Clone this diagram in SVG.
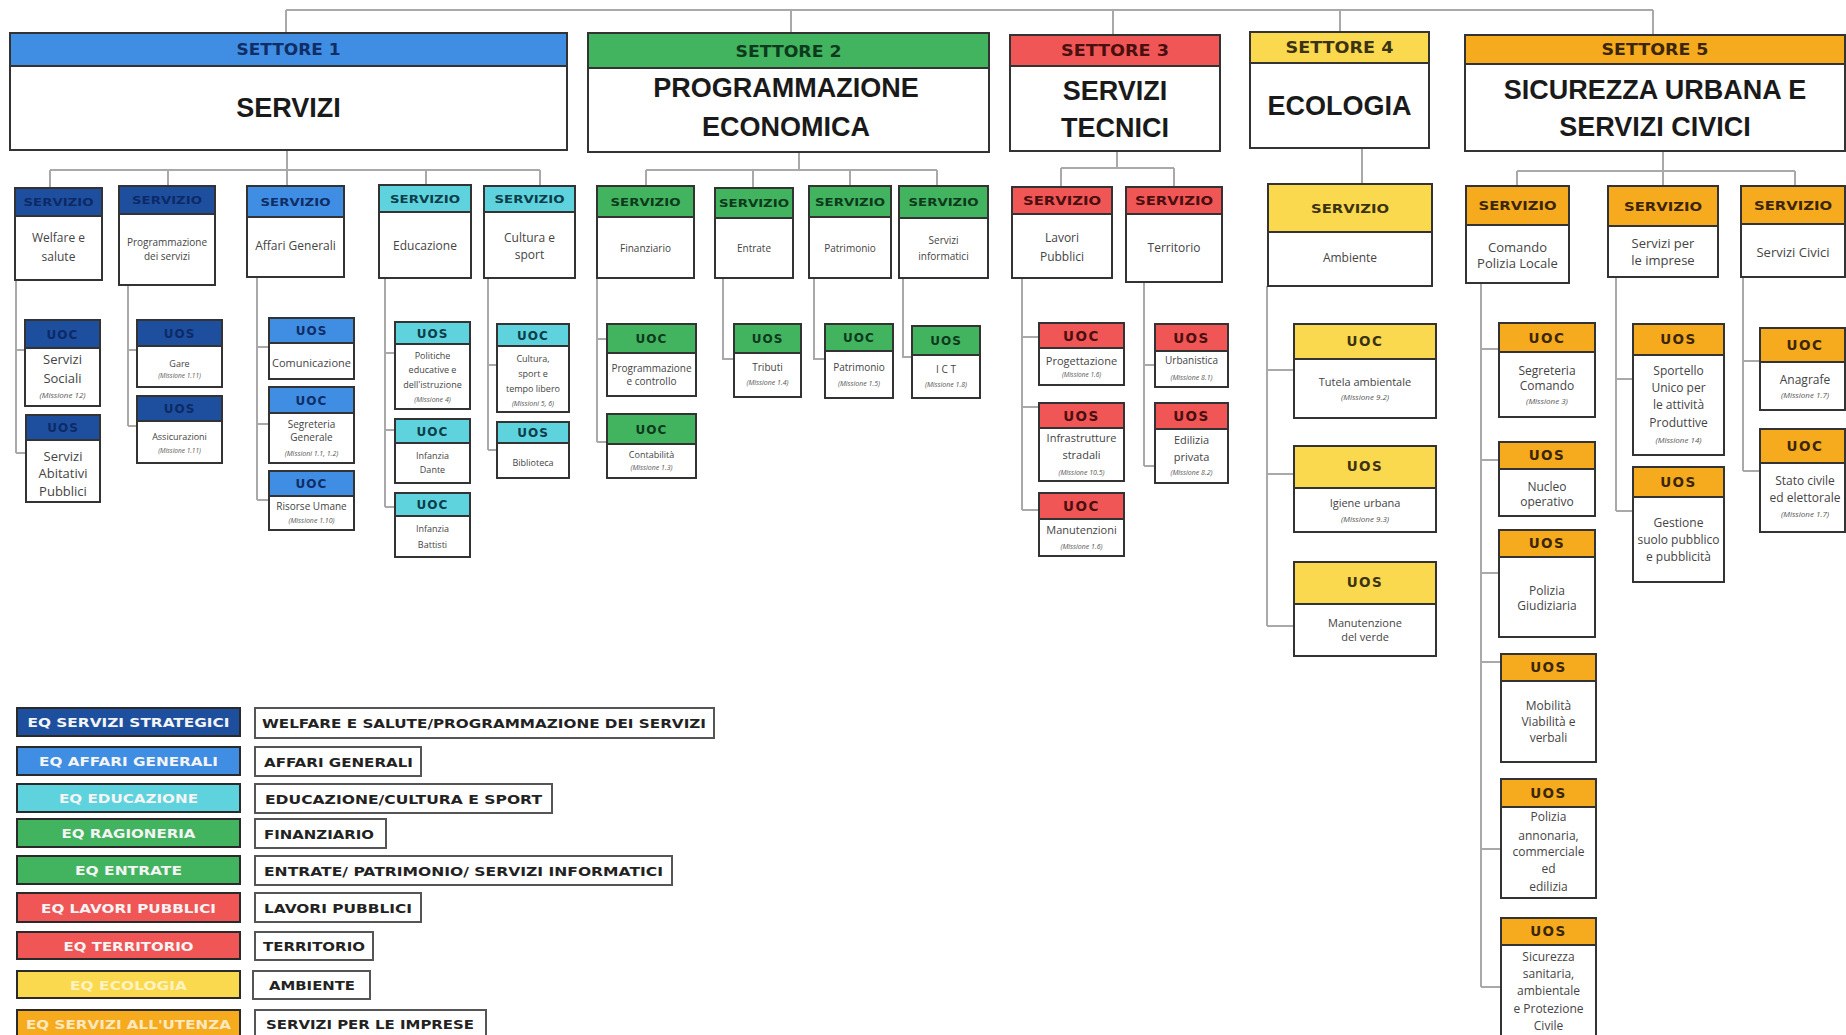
<svg xmlns="http://www.w3.org/2000/svg" width="1846" height="1035" viewBox="0 0 1846 1035">
<style>
.conn path{fill:none;stroke:#a9a9a9;stroke-width:2}
.box{fill:#fff;stroke:#333;stroke-width:2}
.h{stroke:#333;stroke-width:2}
.db{fill:#1d4f9e}.bl{fill:#3f8ee3}.cy{fill:#5fd3dd}.gr{fill:#42b35f}.rd{fill:#f15656}.yl{fill:#fbd94f}.or{fill:#f6ab1e}
text{font-family:"Open Sans","Liberation Sans",Arial,sans-serif;text-anchor:middle}
.k-db{fill:#0e2a66}.k-bl{fill:#0f2d66}.k-cy{fill:#0c3d4a}.k-gr{fill:#0d3a1c}.k-rd{fill:#4a0f0f}.k-yl{fill:#3b3312}.k-or{fill:#3b2608}
.st,.sv,.sv2,.u,.u2,.lt,.rt{font-family:"DejaVu Sans","Liberation Sans",Arial,sans-serif;font-weight:700}
.st{font-size:15px}
.ti{font-family:"Liberation Sans",Arial,sans-serif;font-size:27px;font-weight:700;fill:#1a1a1a}
.sv{font-size:11px}
.sv2{font-size:12px}
.u{font-size:12px;letter-spacing:1px}
.u2{font-size:13.5px;letter-spacing:1.5px}
.b13{font-size:13px;fill:#444}
.b12{font-size:12px;fill:#444}
.b11{font-size:11px;fill:#444}
.b10{font-size:10px;fill:#444}
.b9{font-size:9px;fill:#444}
.m8{font-size:8px;font-style:italic;fill:#555}
.m7{font-size:7px;font-style:italic;fill:#555}
.m6{font-size:6.5px;font-style:italic;fill:#555}
.lg{stroke:#2a2a2a;stroke-width:2}
.lw{fill:#fff;stroke:#555;stroke-width:2}
.lt{font-size:13px;fill:#f4f4f4}
.rt{font-size:13px;fill:#222;text-anchor:start}
</style>
<rect width="1846" height="1035" fill="#fff"/>

<g class="conn" id="connectors">
<path d="M286 10H1653M286 10V33M791 10V33M1113 10V35M1340 10V32M1653 10V35"/>
<path d="M287 150V170M50 170H540M50 170V188M168 170V186M287 170V186M426 170V185M540 170V186"/>
<path d="M16 280V453M16 350H25M16 453H26"/>
<path d="M128 285V426M128 350H137M128 426H137"/>
<path d="M257 277V500M257 347H269M257 424H269M257 500H269"/>
<path d="M385 278V507M385 353H395M385 430H395M385 507H395"/>
<path d="M488 278V450M488 365H497M488 450H497"/>
<path d="M799 152V170M646 170H937M646 170V186M753 170V188M850 170V186M937 170V186"/>
<path d="M597 278V442M597 339H607M597 442H607"/>
<path d="M723 278V359H734M814 278V359H825M903 278V357H912"/>
<path d="M1117 151V168M1061 168H1174M1061 168V187M1174 168V187"/>
<path d="M1022 278V510M1022 337H1039M1022 407H1039M1022 510H1039"/>
<path d="M1144 282V466M1144 365H1155M1144 466H1155"/>
<path d="M1362 148V184"/>
<path d="M1267 286V626M1267 370H1294M1267 474H1294M1267 626H1294"/>
<path d="M1663 151V171M1517 171H1795M1517 171V186M1663 171V186M1795 171V186"/>
<path d="M1481 283V987M1481 349H1499M1481 460H1499M1481 573H1499M1481 662H1501M1481 849H1501M1481 987H1501"/>
<path d="M1616 277V511M1616 379H1633M1616 511H1633"/>
<path d="M1743 277V471M1743 361H1760M1743 471H1760"/>
</g>

<!-- SETTORE 1 -->
<g id="settore1"><rect class="box" x="10" y="33" width="557" height="117"/><rect class="h bl" x="10" y="33" width="557" height="33"/><text class="st k-bl" x="288.5" y="55" textLength="104" lengthAdjust="spacingAndGlyphs">SETTORE 1</text><text class="ti" x="288.5" y="117">SERVIZI</text></g>
<g id="s1-welfare"><rect class="box" x="15" y="188" width="87" height="92"/><rect class="h db" x="15" y="188" width="87" height="28"/><text class="sv k-db" x="58.5" y="206" textLength="70" lengthAdjust="spacingAndGlyphs">SERVIZIO</text><text class="b12" x="58.5" y="242">Welfare e</text><text class="b12" x="58.5" y="261">salute</text></g>
<g id="s1-programmazione"><rect class="box" x="119" y="186" width="96" height="99"/><rect class="h db" x="119" y="186" width="96" height="28"/><text class="sv k-db" x="167" y="204" textLength="70" lengthAdjust="spacingAndGlyphs">SERVIZIO</text><text class="b10" x="167" y="246">Programmazione</text><text class="b10" x="167" y="260">dei servizi</text></g>
<g id="s1-affari"><rect class="box" x="247" y="186" width="97" height="91"/><rect class="h bl" x="247" y="186" width="97" height="31"/><text class="sv k-bl" x="295.5" y="205.5" textLength="70" lengthAdjust="spacingAndGlyphs">SERVIZIO</text><text class="b12" x="295.5" y="250">Affari Generali</text></g>
<g id="s1-educazione"><rect class="box" x="379" y="185" width="92" height="93"/><rect class="h cy" x="379" y="185" width="92" height="27"/><text class="sv k-cy" x="425" y="202.5" textLength="70" lengthAdjust="spacingAndGlyphs">SERVIZIO</text><text class="b12" x="425" y="250">Educazione</text></g>
<g id="s1-cultura"><rect class="box" x="484" y="186" width="91" height="92"/><rect class="h cy" x="484" y="186" width="91" height="26"/><text class="sv k-cy" x="529.5" y="203" textLength="70" lengthAdjust="spacingAndGlyphs">SERVIZIO</text><text class="b12" x="529.5" y="242">Cultura e</text><text class="b12" x="529.5" y="259">sport</text></g>

<g id="uoc-sociali"><rect class="box" x="25" y="320" width="75" height="86"/><rect class="h db" x="25" y="320" width="75" height="28"/><text class="u k-db" x="62.5" y="338.5">UOC</text><text class="b13" x="62.5" y="364">Servizi</text><text class="b13" x="62.5" y="383">Sociali</text><text class="m8" x="62.5" y="398">(Missione 12)</text></g>
<g id="uos-abitativi"><rect class="box" x="26" y="415" width="74" height="87"/><rect class="h db" x="26" y="415" width="74" height="25"/><text class="u k-db" x="63" y="432">UOS</text><text class="b13" x="63" y="461">Servizi</text><text class="b13" x="63" y="478">Abitativi</text><text class="b13" x="63" y="496">Pubblici</text></g>
<g id="uos-gare"><rect class="box" x="137" y="320" width="85" height="67"/><rect class="h db" x="137" y="320" width="85" height="26"/><text class="u k-db" x="179.5" y="337.5">UOS</text><text class="b9" x="179.5" y="367">Gare</text><text class="m6" x="179.5" y="378">(Missione 1.11)</text></g>
<g id="uos-assicurazioni"><rect class="box" x="137" y="396" width="85" height="67"/><rect class="h db" x="137" y="396" width="85" height="25"/><text class="u k-db" x="179.5" y="413">UOS</text><text class="b9" x="179.5" y="440">Assicurazioni</text><text class="m6" x="179.5" y="453">(Missione 1.11)</text></g>
<g id="uos-comunicazione"><rect class="box" x="269" y="318" width="85" height="61"/><rect class="h bl" x="269" y="318" width="85" height="25"/><text class="u k-bl" x="311.5" y="335">UOS</text><text class="b11" x="311.5" y="367">Comunicazione</text></g>
<g id="uoc-segreteria"><rect class="box" x="269" y="387" width="85" height="76"/><rect class="h bl" x="269" y="387" width="85" height="26"/><text class="u k-bl" x="311.5" y="404.5">UOC</text><text class="b10" x="311.5" y="428">Segreteria</text><text class="b10" x="311.5" y="441">Generale</text><text class="m7" x="311.5" y="456">(Missioni 1.1, 1.2)</text></g>
<g id="uoc-risorse"><rect class="box" x="269" y="471" width="85" height="59"/><rect class="h bl" x="269" y="471" width="85" height="25"/><text class="u k-bl" x="311.5" y="488">UOC</text><text class="b10" x="311.5" y="510">Risorse Umane</text><text class="m7" x="311.5" y="523">(Missione 1.10)</text></g>
<g id="uos-politiche"><rect class="box" x="395" y="322" width="75" height="87"/><rect class="h cy" x="395" y="322" width="75" height="22"/><text class="u k-cy" x="432.5" y="337.5">UOS</text><text class="b9" x="432.5" y="359">Politiche</text><text class="b9" x="432.5" y="373">educative e</text><text class="b9" x="432.5" y="388">dell'istruzione</text><text class="m7" x="432.5" y="402">(Missione 4)</text></g>
<g id="uoc-dante"><rect class="box" x="395" y="419" width="75" height="64"/><rect class="h cy" x="395" y="419" width="75" height="24"/><text class="u k-cy" x="432.5" y="435.5">UOC</text><text class="b9" x="432.5" y="459">Infanzia</text><text class="b9" x="432.5" y="473">Dante</text></g>
<g id="uoc-battisti"><rect class="box" x="395" y="493" width="75" height="64"/><rect class="h cy" x="395" y="493" width="75" height="23"/><text class="u k-cy" x="432.5" y="509">UOC</text><text class="b9" x="432.5" y="532">Infanzia</text><text class="b9" x="432.5" y="548">Battisti</text></g>
<g id="uoc-cultura"><rect class="box" x="497" y="324" width="72" height="88"/><rect class="h cy" x="497" y="324" width="72" height="22"/><text class="u k-cy" x="533" y="339.5">UOC</text><text class="b9" x="533" y="362">Cultura,</text><text class="b9" x="533" y="377">sport e</text><text class="b9" x="533" y="392">tempo libero</text><text class="m7" x="533" y="406">(Missioni 5, 6)</text></g>
<g id="uos-biblioteca"><rect class="box" x="497" y="422" width="72" height="56"/><rect class="h cy" x="497" y="422" width="72" height="21"/><text class="u k-cy" x="533" y="437">UOS</text><text class="b9" x="533" y="466">Biblioteca</text></g>

<!-- SETTORE 2 -->
<g id="settore2"><rect class="box" x="588" y="33" width="401" height="119"/><rect class="h gr" x="588" y="33" width="401" height="35"/><text class="st k-gr" x="788.5" y="56.5" textLength="106" lengthAdjust="spacingAndGlyphs">SETTORE 2</text><text class="ti" x="786" y="97">PROGRAMMAZIONE</text><text class="ti" x="786" y="136">ECONOMICA</text></g>
<g id="s2-finanziario"><rect class="box" x="597" y="186" width="97" height="92"/><rect class="h gr" x="597" y="186" width="97" height="31"/><text class="sv k-gr" x="645.5" y="205.5" textLength="70" lengthAdjust="spacingAndGlyphs">SERVIZIO</text><text class="b10" x="645.5" y="252">Finanziario</text></g>
<g id="s2-entrate"><rect class="box" x="715" y="188" width="78" height="90"/><rect class="h gr" x="715" y="188" width="78" height="30"/><text class="sv k-gr" x="754" y="207" textLength="70" lengthAdjust="spacingAndGlyphs">SERVIZIO</text><text class="b10" x="754" y="252">Entrate</text></g>
<g id="s2-patrimonio"><rect class="box" x="809" y="186" width="82" height="92"/><rect class="h gr" x="809" y="186" width="82" height="31"/><text class="sv k-gr" x="850" y="205.5" textLength="70" lengthAdjust="spacingAndGlyphs">SERVIZIO</text><text class="b10" x="850" y="252">Patrimonio</text></g>
<g id="s2-informatici"><rect class="box" x="899" y="186" width="89" height="92"/><rect class="h gr" x="899" y="186" width="89" height="32"/><text class="sv k-gr" x="943.5" y="206" textLength="70" lengthAdjust="spacingAndGlyphs">SERVIZIO</text><text class="b10" x="943.5" y="244">Servizi</text><text class="b10" x="943.5" y="260">informatici</text></g>
<g id="uoc-progcontrollo"><rect class="box" x="607" y="324" width="89" height="72"/><rect class="h gr" x="607" y="324" width="89" height="29"/><text class="u k-gr" x="651.5" y="343">UOC</text><text class="b10" x="651.5" y="372">Programmazione</text><text class="b10" x="651.5" y="385">e controllo</text></g>
<g id="uoc-contabilita"><rect class="box" x="607" y="414" width="89" height="64"/><rect class="h gr" x="607" y="414" width="89" height="30"/><text class="u k-gr" x="651.5" y="433.5">UOC</text><text class="b9" x="651.5" y="458">Contabilità</text><text class="m7" x="651.5" y="470">(Missione 1.3)</text></g>
<g id="uos-tributi"><rect class="box" x="734" y="324" width="67" height="73"/><rect class="h gr" x="734" y="324" width="67" height="29"/><text class="u k-gr" x="767.5" y="343">UOS</text><text class="b10" x="767.5" y="371">Tributi</text><text class="m7" x="767.5" y="385">(Missione 1.4)</text></g>
<g id="uoc-patrimonio"><rect class="box" x="825" y="324" width="68" height="74"/><rect class="h gr" x="825" y="324" width="68" height="27"/><text class="u k-gr" x="859" y="342">UOC</text><text class="b10" x="859" y="371">Patrimonio</text><text class="m7" x="859" y="386">(Missione 1.5)</text></g>
<g id="uos-ict"><rect class="box" x="912" y="326" width="68" height="72"/><rect class="h gr" x="912" y="326" width="68" height="29"/><text class="u k-gr" x="946" y="345">UOS</text><text class="b10" x="946" y="373">I C T</text><text class="m7" x="946" y="387">(Missione 1.8)</text></g>

<!-- SETTORE 3 -->
<g id="settore3"><rect class="box" x="1010" y="35" width="210" height="116"/><rect class="h rd" x="1010" y="35" width="210" height="31"/><text class="st k-rd" x="1115" y="55.5" textLength="108" lengthAdjust="spacingAndGlyphs">SETTORE 3</text><text class="ti" x="1115" y="100">SERVIZI</text><text class="ti" x="1115" y="137">TECNICI</text></g>
<g id="s3-lavori"><rect class="box" x="1012" y="187" width="100" height="91"/><rect class="h rd" x="1012" y="187" width="100" height="27"/><text class="sv2 k-rd" x="1062" y="205" textLength="78" lengthAdjust="spacingAndGlyphs">SERVIZIO</text><text class="b12" x="1062" y="242">Lavori</text><text class="b12" x="1062" y="261">Pubblici</text></g>
<g id="s3-territorio"><rect class="box" x="1126" y="187" width="96" height="95"/><rect class="h rd" x="1126" y="187" width="96" height="27"/><text class="sv2 k-rd" x="1174" y="205" textLength="78" lengthAdjust="spacingAndGlyphs">SERVIZIO</text><text class="b12" x="1174" y="252">Territorio</text></g>
<g id="uoc-progettazione"><rect class="box" x="1039" y="323" width="85" height="62"/><rect class="h rd" x="1039" y="323" width="85" height="25"/><text class="u2 k-rd" x="1081.5" y="340.5">UOC</text><text class="b11" x="1081.5" y="365">Progettazione</text><text class="m6" x="1081.5" y="377">(Missione 1.6)</text></g>
<g id="uos-infrastrutture"><rect class="box" x="1039" y="403" width="85" height="78"/><rect class="h rd" x="1039" y="403" width="85" height="25"/><text class="u2 k-rd" x="1081.5" y="420.5">UOS</text><text class="b11" x="1081.5" y="442">Infrastrutture</text><text class="b11" x="1081.5" y="459">stradali</text><text class="m7" x="1081.5" y="475">(Missione 10.5)</text></g>
<g id="uoc-manutenzioni"><rect class="box" x="1039" y="493" width="85" height="63"/><rect class="h rd" x="1039" y="493" width="85" height="26"/><text class="u2 k-rd" x="1081.5" y="511">UOC</text><text class="b11" x="1081.5" y="534">Manutenzioni</text><text class="m7" x="1081.5" y="549">(Missione 1.6)</text></g>
<g id="uos-urbanistica"><rect class="box" x="1155" y="324" width="73" height="63"/><rect class="h rd" x="1155" y="324" width="73" height="27"/><text class="u2 k-rd" x="1191.5" y="342.5">UOS</text><text class="b10" x="1191.5" y="364">Urbanistica</text><text class="m7" x="1191.5" y="380">(Missione 8.1)</text></g>
<g id="uos-edilizia"><rect class="box" x="1155" y="403" width="73" height="80"/><rect class="h rd" x="1155" y="403" width="73" height="26"/><text class="u2 k-rd" x="1191.5" y="421">UOS</text><text class="b11" x="1191.5" y="444">Edilizia</text><text class="b11" x="1191.5" y="461">privata</text><text class="m7" x="1191.5" y="475">(Missione 8.2)</text></g>

<!-- SETTORE 4 -->
<g id="settore4"><rect class="box" x="1250" y="32" width="179" height="116"/><rect class="h yl" x="1250" y="32" width="179" height="31"/><text class="st k-yl" x="1339.5" y="53" textLength="108" lengthAdjust="spacingAndGlyphs">SETTORE 4</text><text class="ti" x="1339.5" y="115">ECOLOGIA</text></g>
<g id="s4-ambiente"><rect class="box" x="1268" y="184" width="164" height="102"/><rect class="h yl" x="1268" y="184" width="164" height="48"/><text class="sv2 k-yl" x="1350" y="212.5" textLength="78" lengthAdjust="spacingAndGlyphs">SERVIZIO</text><text class="b12" x="1350" y="262">Ambiente</text></g>
<g id="uoc-tutela"><rect class="box" x="1294" y="324" width="142" height="94"/><rect class="h yl" x="1294" y="324" width="142" height="35"/><text class="u2 k-yl" x="1365" y="346">UOC</text><text class="b11" x="1365" y="386">Tutela ambientale</text><text class="m8" x="1365" y="400">(Missione 9.2)</text></g>
<g id="uos-igiene"><rect class="box" x="1294" y="446" width="142" height="86"/><rect class="h yl" x="1294" y="446" width="142" height="42"/><text class="u2 k-yl" x="1365" y="471">UOS</text><text class="b11" x="1365" y="507">Igiene urbana</text><text class="m8" x="1365" y="522">(Missione 9.3)</text></g>
<g id="uos-verde"><rect class="box" x="1294" y="562" width="142" height="94"/><rect class="h yl" x="1294" y="562" width="142" height="42"/><text class="u2 k-yl" x="1365" y="587">UOS</text><text class="b11" x="1365" y="627">Manutenzione</text><text class="b11" x="1365" y="641">del verde</text></g>

<!-- SETTORE 5 -->
<g id="settore5"><rect class="box" x="1465" y="35" width="380" height="116"/><rect class="h or" x="1465" y="35" width="380" height="29"/><text class="st k-or" x="1655" y="54.5" textLength="107" lengthAdjust="spacingAndGlyphs">SETTORE 5</text><text class="ti" x="1655" y="99">SICUREZZA URBANA E</text><text class="ti" x="1655" y="136">SERVIZI CIVICI</text></g>
<g id="s5-comando"><rect class="box" x="1466" y="186" width="103" height="97"/><rect class="h or" x="1466" y="186" width="103" height="39"/><text class="sv2 k-or" x="1517.5" y="210" textLength="78" lengthAdjust="spacingAndGlyphs">SERVIZIO</text><text class="b13" x="1517.5" y="252">Comando</text><text class="b13" x="1517.5" y="268">Polizia Locale</text></g>
<g id="s5-imprese"><rect class="box" x="1608" y="186" width="110" height="91"/><rect class="h or" x="1608" y="186" width="110" height="40"/><text class="sv2 k-or" x="1663" y="210.5" textLength="78" lengthAdjust="spacingAndGlyphs">SERVIZIO</text><text class="b13" x="1663" y="248">Servizi per</text><text class="b13" x="1663" y="265">le imprese</text></g>
<g id="s5-civici"><rect class="box" x="1741" y="186" width="104" height="91"/><rect class="h or" x="1741" y="186" width="104" height="38"/><text class="sv2 k-or" x="1793" y="209.5" textLength="78" lengthAdjust="spacingAndGlyphs">SERVIZIO</text><text class="b13" x="1793" y="257">Servizi Civici</text></g>
<g id="uoc-segcomando"><rect class="box" x="1499" y="323" width="96" height="94"/><rect class="h or" x="1499" y="323" width="96" height="29"/><text class="u2 k-or" x="1547" y="342.5">UOC</text><text class="b12" x="1547" y="375">Segreteria</text><text class="b12" x="1547" y="390">Comando</text><text class="m8" x="1547" y="404">(Missione 3)</text></g>
<g id="uos-nucleo"><rect class="box" x="1499" y="442" width="96" height="74"/><rect class="h or" x="1499" y="442" width="96" height="27"/><text class="u2 k-or" x="1547" y="460">UOS</text><text class="b12" x="1547" y="491">Nucleo</text><text class="b12" x="1547" y="506">operativo</text></g>
<g id="uos-giudiziaria"><rect class="box" x="1499" y="530" width="96" height="107"/><rect class="h or" x="1499" y="530" width="96" height="27"/><text class="u2 k-or" x="1547" y="548">UOS</text><text class="b12" x="1547" y="595">Polizia</text><text class="b12" x="1547" y="610">Giudiziaria</text></g>
<g id="uos-mobilita"><rect class="box" x="1501" y="654" width="95" height="108"/><rect class="h or" x="1501" y="654" width="95" height="27"/><text class="u2 k-or" x="1548.5" y="672">UOS</text><text class="b12" x="1548.5" y="710">Mobilità</text><text class="b12" x="1548.5" y="726">Viabilità e</text><text class="b12" x="1548.5" y="742">verbali</text></g>
<g id="uos-annonaria"><rect class="box" x="1501" y="779" width="95" height="119"/><rect class="h or" x="1501" y="779" width="95" height="28"/><text class="u2 k-or" x="1548.5" y="797.5">UOS</text><text class="b12" x="1548.5" y="821">Polizia</text><text class="b12" x="1548.5" y="840">annonaria,</text><text class="b12" x="1548.5" y="856">commerciale</text><text class="b12" x="1548.5" y="873">ed</text><text class="b12" x="1548.5" y="891">edilizia</text></g>
<g id="uos-sicurezza"><rect class="box" x="1501" y="918" width="95" height="130"/><rect class="h or" x="1501" y="918" width="95" height="27"/><text class="u2 k-or" x="1548.5" y="936">UOS</text><text class="b12" x="1548.5" y="961">Sicurezza</text><text class="b12" x="1548.5" y="978">sanitaria,</text><text class="b12" x="1548.5" y="995">ambientale</text><text class="b12" x="1548.5" y="1013">e Protezione</text><text class="b12" x="1548.5" y="1030">Civile</text></g>
<g id="uos-sportello"><rect class="box" x="1633" y="324" width="91" height="131"/><rect class="h or" x="1633" y="324" width="91" height="31"/><text class="u2 k-or" x="1678.5" y="344">UOS</text><text class="b12" x="1678.5" y="375">Sportello</text><text class="b12" x="1678.5" y="392">Unico per</text><text class="b12" x="1678.5" y="409">le attività</text><text class="b12" x="1678.5" y="427">Produttive</text><text class="m8" x="1678.5" y="443">(Missione 14)</text></g>
<g id="uos-gestione"><rect class="box" x="1633" y="467" width="91" height="115"/><rect class="h or" x="1633" y="467" width="91" height="30"/><text class="u2 k-or" x="1678.5" y="486.5">UOS</text><text class="b12" x="1678.5" y="527">Gestione</text><text class="b12" x="1678.5" y="544">suolo pubblico</text><text class="b12" x="1678.5" y="561">e pubblicità</text></g>
<g id="uoc-anagrafe"><rect class="box" x="1760" y="328" width="85" height="82"/><rect class="h or" x="1760" y="328" width="85" height="34"/><text class="u2 k-or" x="1805" y="349.5">UOC</text><text class="b12" x="1805" y="384">Anagrafe</text><text class="m8" x="1805" y="398">(Missione 1.7)</text></g>
<g id="uoc-statocivile"><rect class="box" x="1760" y="429" width="85" height="103"/><rect class="h or" x="1760" y="429" width="85" height="34"/><text class="u2 k-or" x="1805" y="450.5">UOC</text><text class="b12" x="1805" y="485">Stato civile</text><text class="b12" x="1805" y="502">ed elettorale</text><text class="m8" x="1805" y="517">(Missione 1.7)</text></g>

<!-- LEGENDA -->
<g id="legenda">
<rect class="lg db" x="17" y="708" width="223" height="28"/><text class="lt" x="128.5" y="727" textLength="202" lengthAdjust="spacingAndGlyphs">EQ SERVIZI STRATEGICI</text>
<rect class="lw" x="255" y="708" width="459" height="30"/><text class="rt" x="262" y="728" textLength="444" lengthAdjust="spacingAndGlyphs">WELFARE E SALUTE/PROGRAMMAZIONE DEI SERVIZI</text>
<rect class="lg bl" x="17" y="747" width="223" height="28"/><text class="lt" x="128.5" y="766" textLength="179" lengthAdjust="spacingAndGlyphs">EQ AFFARI GENERALI</text>
<rect class="lw" x="255" y="747" width="166" height="29"/><text class="rt" x="264" y="766.5" textLength="149" lengthAdjust="spacingAndGlyphs">AFFARI GENERALI</text>
<rect class="lg cy" x="17" y="784" width="223" height="28"/><text class="lt" x="128.5" y="803" textLength="139" lengthAdjust="spacingAndGlyphs">EQ EDUCAZIONE</text>
<rect class="lw" x="255" y="784" width="297" height="29"/><text class="rt" x="265" y="803.5" textLength="277" lengthAdjust="spacingAndGlyphs">EDUCAZIONE/CULTURA E SPORT</text>
<rect class="lg gr" x="17" y="819" width="223" height="28"/><text class="lt" x="128.5" y="838" textLength="134" lengthAdjust="spacingAndGlyphs">EQ RAGIONERIA</text>
<rect class="lw" x="255" y="819" width="131" height="29"/><text class="rt" x="264" y="838.5" textLength="110" lengthAdjust="spacingAndGlyphs">FINANZIARIO</text>
<rect class="lg gr" x="17" y="856" width="223" height="28"/><text class="lt" x="128.5" y="875" textLength="107" lengthAdjust="spacingAndGlyphs">EQ ENTRATE</text>
<rect class="lw" x="255" y="856" width="417" height="29"/><text class="rt" x="264" y="875.5" textLength="399" lengthAdjust="spacingAndGlyphs">ENTRATE/ PATRIMONIO/ SERVIZI INFORMATICI</text>
<rect class="lg rd" x="17" y="893" width="223" height="29"/><text class="lt" x="128.5" y="912.5" textLength="175" lengthAdjust="spacingAndGlyphs">EQ LAVORI PUBBLICI</text>
<rect class="lw" x="255" y="893" width="166" height="29"/><text class="rt" x="264" y="912.5" textLength="148" lengthAdjust="spacingAndGlyphs">LAVORI PUBBLICI</text>
<rect class="lg rd" x="17" y="932" width="223" height="27"/><text class="lt" x="128.5" y="950.5" textLength="130" lengthAdjust="spacingAndGlyphs">EQ TERRITORIO</text>
<rect class="lw" x="255" y="932" width="118" height="28"/><text class="rt" x="263" y="951" textLength="102" lengthAdjust="spacingAndGlyphs">TERRITORIO</text>
<rect class="lg yl" x="17" y="971" width="223" height="27"/><text class="lt" x="128.5" y="989.5" textLength="117" lengthAdjust="spacingAndGlyphs" style="fill:#fdf3c0">EQ ECOLOGIA</text>
<rect class="lw" x="253" y="971" width="117" height="28"/><text class="rt" x="269" y="990" textLength="86" lengthAdjust="spacingAndGlyphs">AMBIENTE</text>
<rect class="lg or" x="17" y="1010" width="223" height="30"/><text class="lt" x="128.5" y="1029" textLength="205" lengthAdjust="spacingAndGlyphs" style="fill:#fde8c0">EQ SERVIZI ALL'UTENZA</text>
<rect class="lw" x="255" y="1010" width="231" height="30"/><text class="rt" x="266" y="1029" textLength="208" lengthAdjust="spacingAndGlyphs">SERVIZI PER LE IMPRESE</text>
</g>
</svg>
